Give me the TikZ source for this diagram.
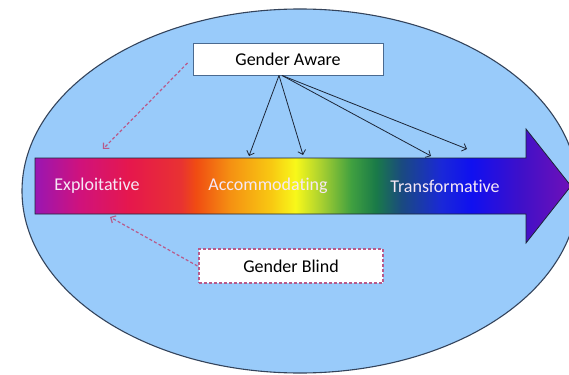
\documentclass[tikz,border=0pt]{standalone}
\usepackage{fontspec}
\setmainfont{Carlito}[Ligatures={NoCommon}]
\usetikzlibrary{arrows.meta}
\definecolor{bgblue}{HTML}{99CBFA}
\definecolor{ellline}{HTML}{34445C}
\definecolor{boxline}{HTML}{4A6A90}
\definecolor{mauve}{HTML}{B85A8A}
\definecolor{arrline}{HTML}{1C2638}
\definecolor{lbltext}{HTML}{F6E8F6}
\definecolor{c01}{HTML}{9A16B2}
\definecolor{c02}{HTML}{D0127C}
\definecolor{c03}{HTML}{E6184C}
\definecolor{c04}{HTML}{E83232}
\definecolor{c05}{HTML}{F04C12}
\definecolor{c06}{HTML}{F59212}
\definecolor{c07}{HTML}{F8C812}
\definecolor{c08}{HTML}{F8F81A}
\definecolor{c09}{HTML}{A8D030}
\definecolor{c10}{HTML}{40A040}
\definecolor{c11}{HTML}{1A7A48}
\definecolor{c12}{HTML}{1A4A80}
\definecolor{c13}{HTML}{1A28D8}
\definecolor{c14}{HTML}{1010F0}
\definecolor{c15}{HTML}{4010C8}
\definecolor{c16}{HTML}{7010B8}
\pgfdeclarehorizontalshading{rainbow}{100bp}{color(0bp)=(c01); color(25bp)=(c01); color(29.2bp)=(c02); color(33.9bp)=(c03); color(38.6bp)=(c04); color(40bp)=(c05); color(43.3bp)=(c06); color(47bp)=(c07); color(49.3bp)=(c08); color(51.7bp)=(c09); color(54.5bp)=(c10); color(56.8bp)=(c11); color(59.2bp)=(c12); color(62.9bp)=(c13); color(65.7bp)=(c14); color(70.4bp)=(c15); color(75bp)=(c16); color(100bp)=(c16)}
\begin{document}
\begin{tikzpicture}[x=1pt,y=-1pt,
  lbl/.style={text=lbltext, font=\fontsize{18}{21}\selectfont, inner sep=0pt},
  awarebox/.style={draw=boxline, line width=0.9pt, fill=white, minimum width=190pt, minimum height=32pt, font=\fontsize{18}{21}\selectfont, inner sep=0pt},
  blindbox/.style={draw=mauve, line width=1.1pt, dash pattern=on 3pt off 2pt, fill=white, minimum width=184pt, minimum height=34pt, font=\fontsize{18}{21}\selectfont, inner sep=0pt},
  solidarr/.style={draw=arrline, line width=0.8pt, -{Straight Barb[length=4pt,width=8pt]}},
  dasharr/.style={draw=mauve, line width=1.2pt, dash pattern=on 3pt off 2.2pt, -{Straight Barb[length=4pt,width=8pt]}}]
\useasboundingbox (0,0) rectangle (569,374);
\clip (0,0) rectangle (569,374);
\fill[white] (0,0) rectangle (569,374);
\draw[fill=bgblue, draw=ellline, line width=1.1pt] (300,191) ellipse [x radius=278, y radius=182];
\shade[shading=rainbow, draw=arrline, line width=0.8pt] (35,158) -- (526,158) -- (526,129) -- (571,186) -- (526,243) -- (526,214) -- (35,214) -- cycle;
\node[lbl] (expl) at (97,186) {Exploitative};
\node[lbl] (acc) at (268,186) {Accommodating};
\node[lbl] (trans) at (445,186) {Transformative};
\node[awarebox] (aware) at (288,59) {Gender Aware};
\node[blindbox] (blind) at (291,266) {Gender Blind};
\coordinate (t1) at (249,156);
\coordinate (t2) at (303,155);
\coordinate (t3) at (431,156);
\coordinate (t4) at (467,149);
\coordinate (e1) at (103,149);
\coordinate (e2) at (110,217);
\draw[solidarr] ([xshift=-9pt]aware.south) -- (t1);
\draw[solidarr] ([xshift=-9pt]aware.south) -- (t2);
\draw[solidarr] ([xshift=-6pt]aware.south) -- (t3);
\draw[solidarr] ([xshift=-6pt]aware.south) -- (t4);
\draw[dasharr] ([xshift=-5pt,yshift=-4pt]aware.west) -- (e1);
\draw[dasharr] ([xshift=-1pt]blind.west) -- (e2);
\end{tikzpicture}
\end{document}
